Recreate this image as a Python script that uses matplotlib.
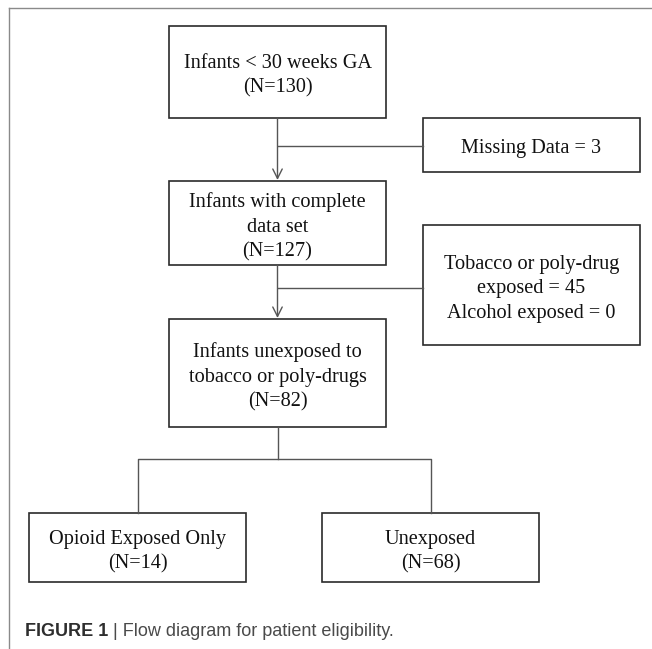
import matplotlib.pyplot as plt
from matplotlib.patches import Rectangle

# box texts of the flow diagram
box_labels = [
    "Infants < 30 weeks GA\n(N=130)",
    "Missing Data = 3",
    "Infants with complete\ndata set\n(N=127)",
    "Tobacco or poly-drug\nexposed = 45\nAlcohol exposed = 0",
    "Infants unexposed to\ntobacco or poly-drugs\n(N=82)",
    "Opioid Exposed Only\n(N=14)",
    "Unexposed\n(N=68)",
]
caption_bold = "FIGURE 1"
caption_rest = " | Flow diagram for patient eligibility."

# layout in pixels (x0, y0, x1, y1), y grows downward
box_pos = [
    (169, 26, 386, 118),
    (423, 118, 640, 172),
    (169, 181, 386, 265),
    (423, 225, 640, 345),
    (169, 319, 386, 427),
    (29, 513, 246, 582),
    (322, 513, 539, 582),
]

fig = plt.figure(figsize=(6.52, 6.49), dpi=100)
ax = fig.add_axes([0, 0, 1, 1])
ax.set_xlim(0, 652)
ax.set_ylim(649, 0)
ax.axis("off")

serif = ["Liberation Serif", "DejaVu Serif"]
box_col = "#2b2b2b"
line_col = "#555555"

# outer frame (top and left only)
ax.plot([9, 652], [8, 8], color="#8a8a8a", lw=1.0)
ax.plot([9, 9], [8, 649], color="#8a8a8a", lw=1.0)

for (x0, y0, x1, y1), lab in zip(box_pos, box_labels):
    ax.add_patch(Rectangle((x0, y0), x1 - x0, y1 - y0, fill=False,
                           edgecolor=box_col, lw=1.2))
    ax.text((x0 + x1) / 2, (y0 + y1) / 2 + 4, lab, ha="center", va="center",
            fontsize=14.6, family=serif, color="#111111", linespacing=1.4)

cx = (box_pos[0][0] + box_pos[0][2]) / 2


def arrow_down(y_from, y_to):
    ax.annotate("", xy=(cx, y_to), xytext=(cx, y_from),
                arrowprops=dict(arrowstyle="->", color=line_col, lw=1.0,
                                mutation_scale=17, shrinkA=0, shrinkB=0))


# main flow with side exits
arrow_down(box_pos[0][3], box_pos[2][1] - 1)
ax.plot([cx, box_pos[1][0]], [146, 146], color=line_col, lw=1.0)
arrow_down(box_pos[2][3], box_pos[4][1] - 1)
ax.plot([cx, box_pos[3][0]], [288, 288], color=line_col, lw=1.0)

# split into two groups
lcx = (box_pos[5][0] + box_pos[5][2]) / 2
rcx = (box_pos[6][0] + box_pos[6][2]) / 2
ax.plot([cx, cx], [box_pos[4][3], 459], color=line_col, lw=1.0)
ax.plot([lcx, lcx, rcx, rcx], [box_pos[5][1], 459, 459, box_pos[6][1]],
        color=line_col, lw=1.0)

# caption
sans = ["Liberation Sans", "DejaVu Sans"]
t = ax.text(25, 632, caption_bold, ha="left", va="center", fontsize=13,
            fontweight="bold", family=sans, color="#2e2e2e")
ax.annotate(caption_rest, xycoords=t, xy=(1, 0.5), va="center",
            fontsize=13, family=sans, color="#4a4a4a")

fig.savefig("out.png", dpi=100)
